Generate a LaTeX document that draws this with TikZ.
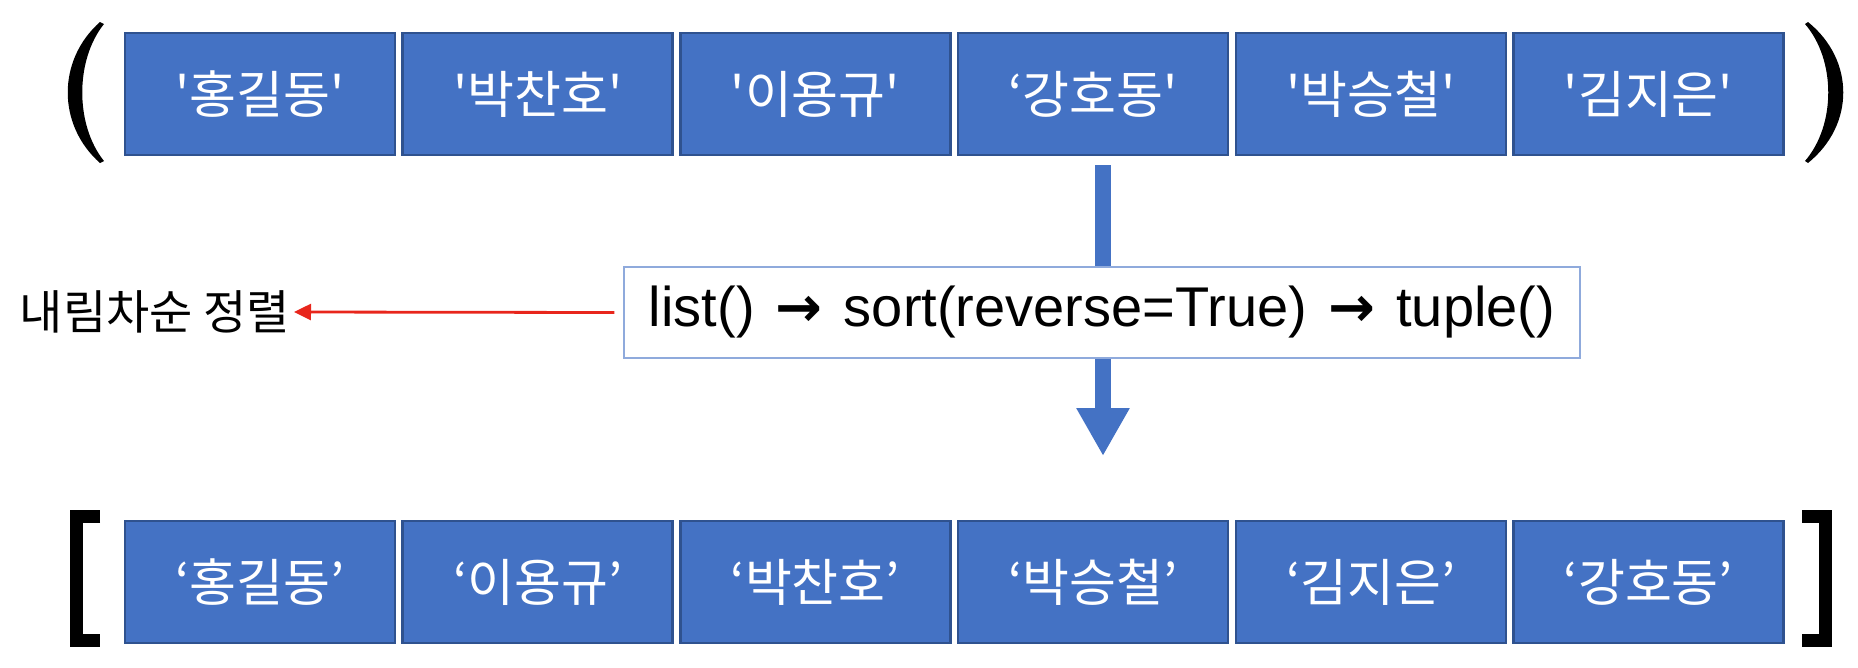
\documentclass[tikz,border=0pt]{standalone}
\usepackage{fontspec}
\setmainfont{Liberation Sans}
\newfontfamily\kr{Noto Sans CJK KR}
\newfontfamily\dv{DejaVu Sans}
\usetikzlibrary{arrows.meta}
\definecolor{boxfill}{HTML}{4472C4}
\definecolor{boxline}{HTML}{2F528F}
\definecolor{midline}{HTML}{8FAADC}
\definecolor{redline}{HTML}{E8261C}
\newcommand{\rarr}{\hspace{0.1em}{\dv\bfseries →}\hspace{0.1em}}
\tikzset{
  cell/.style={draw=boxline, line width=2.5pt, fill=boxfill, minimum width=270pt, minimum height=122pt, inner sep=0pt, text=white, font=\kr\fontsize{51}{54}\selectfont},
  codebox/.style={draw=midline, line width=1.5pt, fill=white, minimum width=956pt, minimum height=91pt, inner sep=0pt, font=\fontsize{56}{60}\selectfont},
  lbl/.style={font=\kr\fontsize{47}{50}\selectfont, inner sep=0pt, anchor=east},
  flow/.style={draw=boxfill, line width=16pt, -{Triangle[width=50pt,length=48pt]}},
  redarrow/.style={draw=redline, line width=2.8pt, -{Triangle[width=16pt,length=17pt]}},
  delim/.style={fill=black, draw=none},
  brack/.style={draw=black, line width=13pt, line join=miter, line cap=butt}
}
\begin{document}
\begin{tikzpicture}[x=1pt,y=-1pt]
\useasboundingbox (0,0) rectangle (1858,667);
% arrow (behind)
\coordinate (vs) at (1103,165);
\coordinate (ve) at (1103,456);
\draw[flow] (vs) -- (ve);
% top row
\foreach \t [count=\i from 0] in {{'홍길동'},{'박찬호'},{'이용규'},{‘강호동'},{'박승철'},{'김지은'}}{
  \node[cell] (t\i) at ({124+136+\i*277.7},94) {\t};
}
% bottom row
\foreach \t [count=\i from 0] in {{‘홍길동’},{‘이용규’},{‘박찬호’},{‘박승철’},{‘김지은’},{‘강호동’}}{
  \node[cell] (b\i) at ({124+136+\i*277.7},582) {\t};
}
% middle code box
\node[codebox] (mid) at (1102,312.5) {list() \rarr{} sort(reverse=True) \rarr{} tuple()};
\node[lbl] (lab) at (290,312) {내림차순 정렬};
\draw[redarrow] ([xshift=-9pt]mid.west) -- ([xshift=4pt]lab.east);
% parentheses
\path[delim] (100,22) .. controls (57,60) and (57,125) .. (100,163) -- (104,161) .. controls (75,125) and (75,60) .. (104,24) -- cycle;
\path[delim] (1808,22) .. controls (1855,60) and (1855,125) .. (1808,163) -- (1805,161) .. controls (1836,125) and (1836,60) .. (1805,24) -- cycle;
% brackets
\draw[brack] (100,516.5) -- (76.5,516.5) -- (76.5,640.5) -- (100,640.5);
\draw[brack] (1802,516.5) -- (1825.5,516.5) -- (1825.5,640.5) -- (1802,640.5);
\end{tikzpicture}
\end{document}
